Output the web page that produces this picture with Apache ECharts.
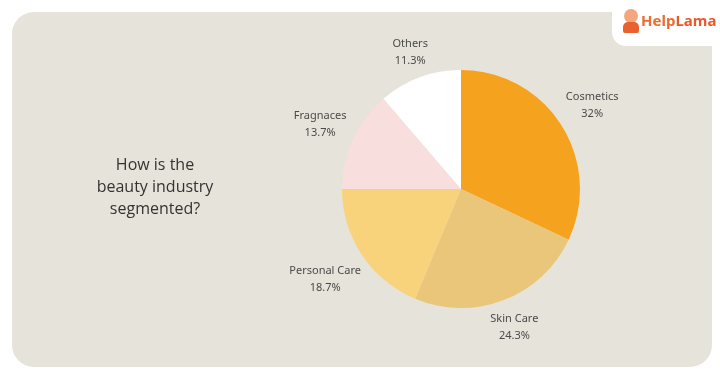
<!DOCTYPE html>
<html>
<head>
<meta charset="utf-8">
<script src="https://cdn.jsdelivr.net/npm/echarts@6/dist/echarts.min.js"></script>
<style>
  html, body { margin: 0; padding: 0; background: #ffffff; }
  #chart { width: 720px; height: 377px; }
</style>
</head>
<body>
<div id="chart"></div>
<script>
const segments = ['Cosmetics', 'Skin Care', 'Personal Care', 'Fragnaces', 'Others'];
const shares = [32, 24.3, 18.7, 13.7, 11.3];
const sliceColors = ['#f5a31f', '#e9c679', '#f9d37b', '#f8dedc', '#ffffff'];
const titleText = 'How is the\nbeauty industry\nsegmented?';

const chart = echarts.init(document.getElementById('chart'));

// labels sit centred just outside the rim, pushed out by half their box
function centreLabel(params) {
  const pts = params.labelLinePoints;
  if (!pts || pts.length < 2) return {};
  let ux = pts[1][0] - pts[0][0];
  let uy = pts[1][1] - pts[0][1];
  const n = Math.sqrt(ux * ux + uy * uy) || 1;
  ux /= n; uy /= n;
  const w = params.labelRect.width, h = params.labelRect.height;
  const ext = Math.abs(ux) * w / 2 + Math.abs(uy) * h / 2;
  return {
    x: pts[1][0] + ux * ext,
    y: pts[1][1] + uy * ext,
    align: 'center',
    verticalAlign: 'middle'
  };
}

chart.setOption({
  backgroundColor: '#ffffff',
  animation: false,
  graphic: [
    {
      type: 'rect', z: -10,
      shape: { x: 12, y: 12, width: 700, height: 355, r: 22 },
      style: { fill: '#e6e3da' }
    },
    {
      type: 'text', z: 5,
      style: {
        x: 155, y: 187, text: titleText,
        fill: '#333333', font: '500 16px "Open Sans", sans-serif',
        align: 'center', verticalAlign: 'middle', lineHeight: 22
      }
    },
    // logo box
    {
      type: 'rect', z: 5,
      shape: { x: 612, y: -20, width: 130, height: 66, r: 14 },
      style: { fill: '#ffffff' }
    },
    {
      type: 'circle', z: 6,
      shape: { cx: 631, cy: 16, r: 7 },
      style: { fill: '#f4a77e' }
    },
    {
      type: 'rect', z: 6,
      shape: { x: 623, y: 22, width: 16, height: 11, r: [5, 5, 2, 2] },
      style: { fill: '#e8622e' }
    },
    {
      type: 'text', z: 6,
      style: {
        x: 641, y: 22,
        text: '{a|Help}{b|Lama}',
        rich: {
          a: { fill: '#ee6a2d', font: 'bold 15px "Noto Sans", sans-serif' },
          b: { fill: '#e9582a', font: 'bold 15px "Noto Sans", sans-serif' }
        },
        verticalAlign: 'middle'
      }
    }
  ],
  series: [{
    type: 'pie',
    center: [461, 189],
    radius: ['0%', 119],
    startAngle: 90,
    clockwise: true,
    avoidLabelOverlap: false,
    itemStyle: { borderWidth: 0 },
    label: {
      show: true,
      position: 'outside',
      formatter: '{b}\n{c}%',
      color: '#4a4a4a',
      fontSize: 11,
      fontFamily: '"Noto Sans", sans-serif',
      lineHeight: 17
    },
    labelLine: {
      show: true, length: 5, length2: 0,
      lineStyle: { opacity: 0, width: 0 }
    },
    labelLayout: centreLabel,
    emphasis: { disabled: true },
    data: segments.map((name, i) => ({
      name: name,
      value: shares[i],
      itemStyle: { color: sliceColors[i] }
    }))
  }]
});
</script>
</body>
</html>
